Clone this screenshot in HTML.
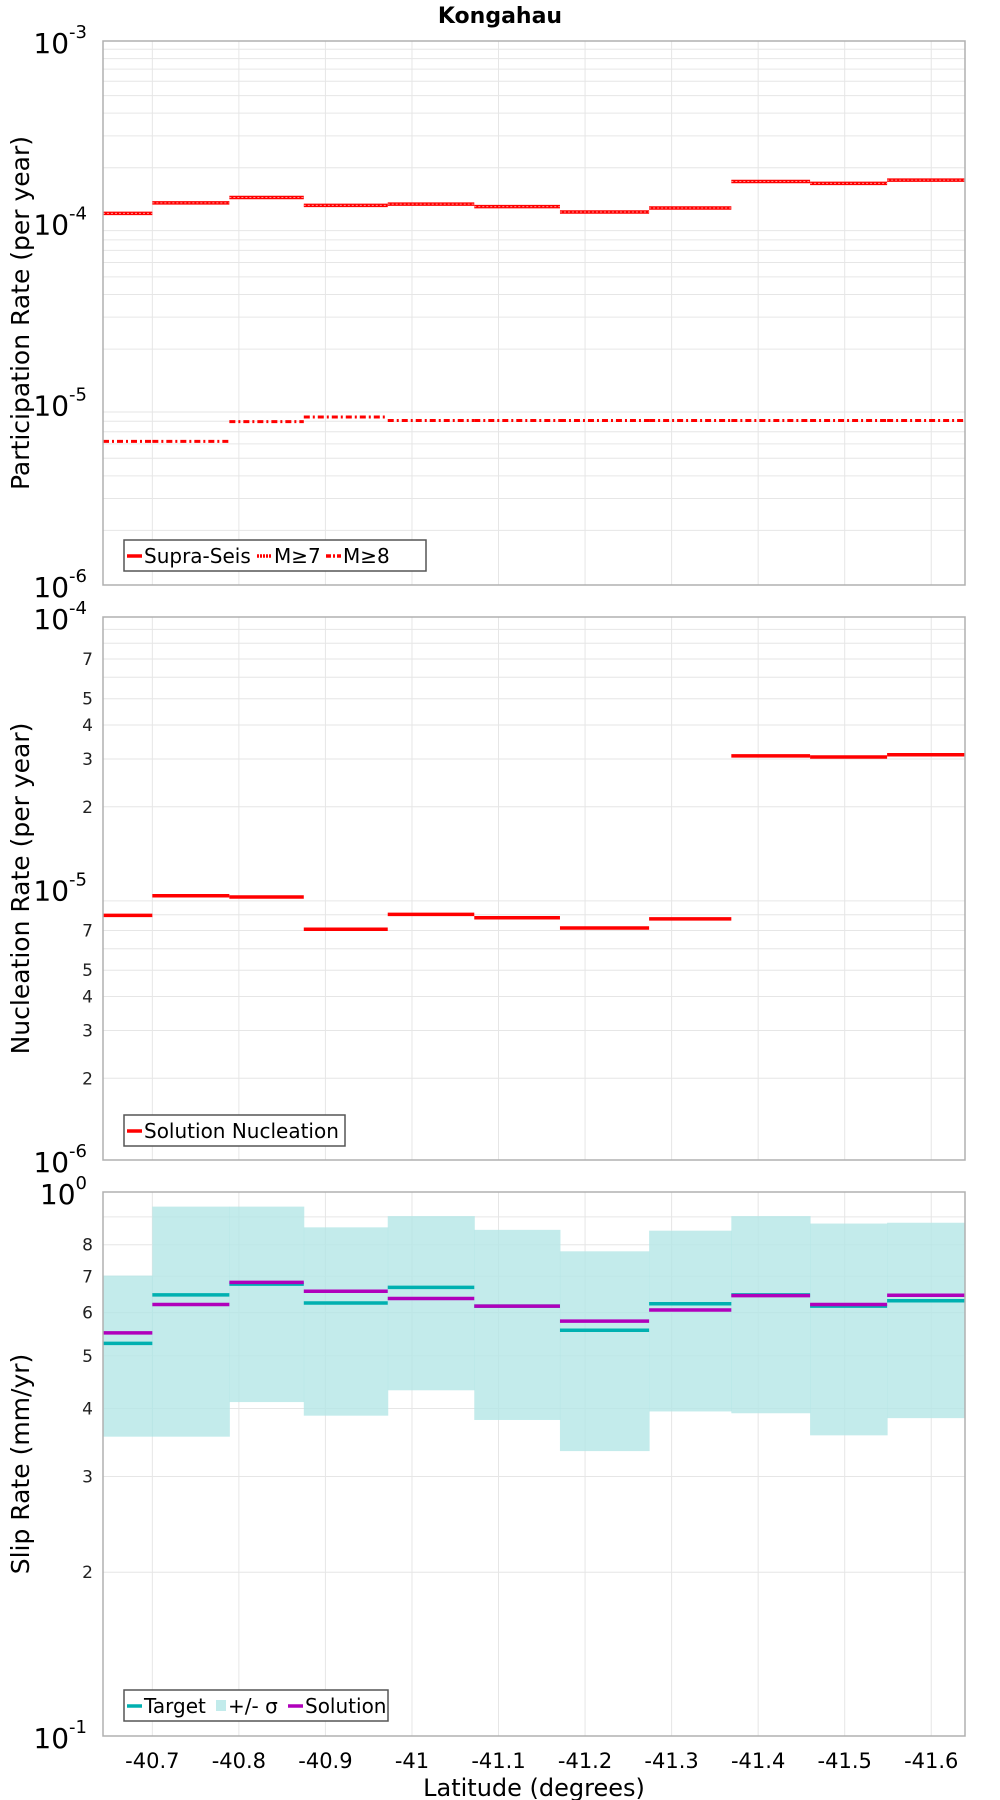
<!DOCTYPE html>
<html><head><meta charset="utf-8"><style>
html,body{margin:0;padding:0;background:#fff;}
svg{display:block;font-family:"DejaVu Sans","Liberation Sans",sans-serif;}
</style></head><body>
<svg id="chart" width="1000" height="1800" viewBox="0 0 1000 1800" xmlns="http://www.w3.org/2000/svg">
<text x="500" y="23" text-anchor="middle" font-size="22" font-weight="bold">Kongahau</text>
</svg>
<script>
// ---- data ----
const binEdges = [-40.643,-40.700,-40.789,-40.875,-40.972,-41.072,-41.171,-41.274,-41.369,-41.460,-41.549,-41.639];
const xTicks = [-40.7,-40.8,-40.9,-41,-41.1,-41.2,-41.3,-41.4,-41.5,-41.6];
const xTickLabels = ["-40.7","-40.8","-40.9","-41","-41.1","-41.2","-41.3","-41.4","-41.5","-41.6"];
const supraSeis = [1.12e-4,1.28e-4,1.37e-4,1.24e-4,1.26e-4,1.22e-4,1.14e-4,1.20e-4,1.68e-4,1.64e-4,1.71e-4];
const m7 = [1.12e-4,1.28e-4,1.37e-4,1.24e-4,1.26e-4,1.22e-4,1.14e-4,1.20e-4,1.68e-4,1.64e-4,1.71e-4];
const m8 = [6.2e-6,6.2e-6,7.96e-6,8.44e-6,8.07e-6,8.07e-6,8.07e-6,8.07e-6,8.07e-6,8.07e-6,8.07e-6];
const nucleation = [7.96e-6,9.4e-6,9.3e-6,7.08e-6,8.03e-6,7.8e-6,7.15e-6,7.73e-6,3.08e-5,3.05e-5,3.11e-5];
const target = [0.527,0.647,0.677,0.625,0.668,0.617,0.557,0.623,0.647,0.617,0.631];
const solution = [0.551,0.621,0.682,0.657,0.637,0.617,0.579,0.607,0.645,0.621,0.646];
const sigmaHi = [0.702,0.940,0.940,0.861,0.903,0.852,0.778,0.849,0.903,0.875,0.878];
const sigmaLo = [0.355,0.355,0.411,0.388,0.432,0.381,0.334,0.395,0.392,0.357,0.384];

const NS="http://www.w3.org/2000/svg";
const svg=document.getElementById('chart');
const L=103,R=965;
function xs(lat){return L+(lat-binEdges[0])/(binEdges[binEdges.length-1]-binEdges[0])*(R-L);}
function mk(tag,attrs,parent){const e=document.createElementNS(NS,tag);for(const k in attrs)e.setAttribute(k,attrs[k]);(parent||svg).appendChild(e);return e;}
function logScale(top,bot,dmax,dmin){return v=>top+(dmax-Math.log10(v))/(dmax-dmin)*(bot-top);}

const panels=[
 {top:41,bot:585,dmax:-3,dmin:-6,title:"Participation Rate (per year)",minorLabels:false,name:"participation"},
 {top:617,bot:1160,dmax:-4,dmin:-6,title:"Nucleation Rate (per year)",minorLabels:true,name:"nucleation"},
 {top:1192,bot:1736,dmax:0,dmin:-1,title:"Slip Rate (mm/yr)",minorLabels:true,name:"slip"}
];
panels.forEach(p=>{
 p.y=logScale(p.top,p.bot,p.dmax,p.dmin);
 const g=mk('g',{});
 
 
 for(let d=p.dmin;d<p.dmax;d++){for(let m=2;m<=9;m++){const yy=p.y(m*Math.pow(10,d));
  mk('line',{x1:L,x2:R,y1:yy,y2:yy,stroke:'#e6e6e6','stroke-width':1},g);
  if(p.minorLabels&&m<=8&&!(p.name==='nucleation'&&(m==6||m==8))&&!(p.name==='slip'&&m==9)){
   const t=mk('text',{x:L-10,y:yy+6,'text-anchor':'end','font-size':17,fill:'#222'});t.textContent=m;
   
   
  }}}
 xTicks.forEach(v=>{mk('line',{x1:xs(v),x2:xs(v),y1:p.top,y2:p.bot,stroke:'#e6e6e6','stroke-width':1},g);});
 for(let d=p.dmin;d<=p.dmax;d++){const yy=p.y(Math.pow(10,d));
  const t=mk('text',{x:L-16,y:yy+12,'text-anchor':'end','font-size':28,fill:'#000'});
  
  
  t.appendChild(document.createTextNode('10'));
  const s=mk('tspan',{dy:-15,'font-size':18},t);s.textContent=String(d);
 }
 const yt=mk('text',{x:0,y:0,transform:`translate(29,${(p.top+p.bot)/2}) rotate(-90)`,'text-anchor':'middle','font-size':25,fill:'#000'});
 yt.textContent=p.title;
 
 
});
function steps(vals,yf,attrs,name){vals.forEach((v,i)=>{const l=mk('line',Object.assign({x1:xs(binEdges[i]),x2:xs(binEdges[i+1]),y1:yf(v),y2:yf(v)},attrs));
 
 });}
const p1=panels[0],p2=panels[1],p3=panels[2];
steps(supraSeis,p1.y,{stroke:'#ff0000','stroke-width':3.5},'supra-seis-step');
steps(m7,p1.y,{stroke:'#ff9090','stroke-width':1,'stroke-dasharray':'2,2'},'m7-step');
steps(m8,p1.y,{stroke:'#ff0000','stroke-width':3,'stroke-dasharray':'6,3,2,3'},'m8-step');
steps(nucleation,p2.y,{stroke:'#ff0000','stroke-width':3.5},'nucleation-step');
sigmaHi.forEach((v,i)=>{const r=mk('rect',{x:xs(binEdges[i]),y:p3.y(v),width:xs(binEdges[i+1])-xs(binEdges[i])+0.5,height:p3.y(sigmaLo[i])-p3.y(v),fill:'#b4e6e6','fill-opacity':0.8});
 
 });
steps(target,p3.y,{stroke:'#00b0b0','stroke-width':3.5},'target-step');
steps(solution,p3.y,{stroke:'#b000bb','stroke-width':3.5},'solution-step');
panels.forEach(p=>{const f=mk('rect',{x:L,y:p.top,width:R-L,height:p.bot-p.top,fill:'none',stroke:'#b0b0b0','stroke-width':1.5});
 
 });
xTicks.forEach((v,i)=>{const t=mk('text',{x:xs(v),y:1768,'text-anchor':'middle','font-size':21,fill:'#000'});t.textContent=xTickLabels[i];
 
 });
const xt=mk('text',{x:534,y:1796,'text-anchor':'middle','font-size':24});xt.textContent='Latitude (degrees)';


function legend(x,y,w,items,name){const g=mk('g',{});
 
 
 mk('rect',{x:x,y:y,width:w,height:31,fill:'#fff',stroke:'#555','stroke-width':1.5},g);
 let cx=x+3;items.forEach(it=>{
  if(it.box){mk('rect',{x:cx,y:y+10,width:10,height:11,fill:'#c2ebeb'},g);cx+=12;}
  else{mk('line',{x1:cx,x2:cx+15,y1:y+16,y2:y+16,stroke:it.c,'stroke-width':3.5,'stroke-dasharray':it.d||'none'},g);cx+=17;}
  const t=mk('text',{x:cx,y:y+23,'font-size':20},g);t.textContent=it.t;
  
  
  cx+=it.w;});}
legend(124,540,302,[{c:'#f00',t:'Supra-Seis',w:113},{c:'#f00',d:'2,1',t:'M≥7',w:52},{c:'#f00',d:'5,2,2,2',t:'M≥8',w:48}],'participation-legend');
legend(124,1115,221,[{c:'#f00',t:'Solution Nucleation',w:200}],'nucleation-legend');
legend(124,1690,264,[{c:'#00b0b0',t:'Target',w:72},{box:true,t:'+/- σ',w:60},{c:'#b000bb',t:'Solution',w:90}],'slip-legend');
</script>
</body></html>
